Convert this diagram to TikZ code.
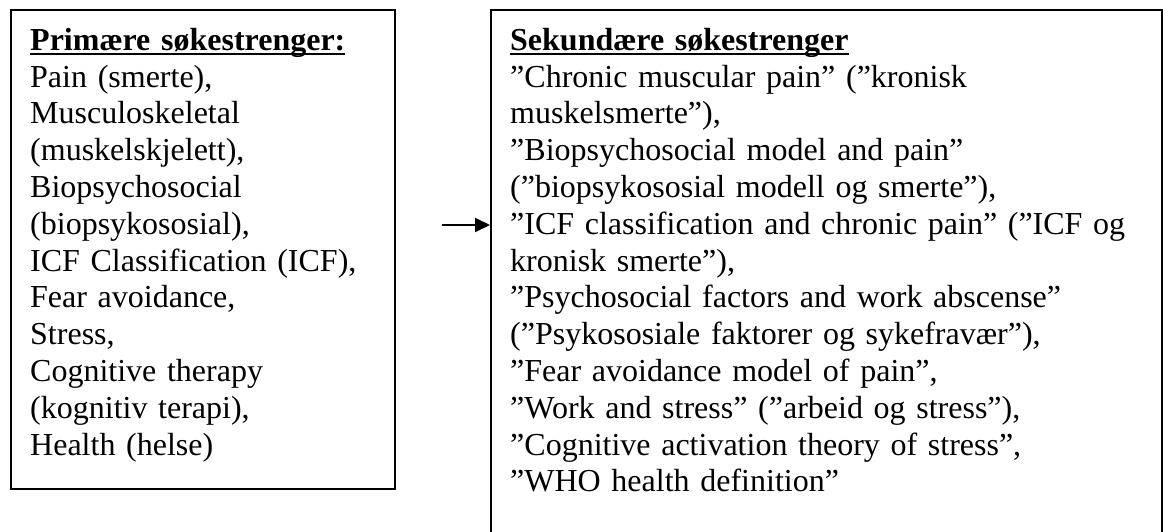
\documentclass[tikz,border=0pt]{standalone}
\usepackage{fontspec}
\setmainfont{Liberation Serif}
\usetikzlibrary{arrows.meta}
\newsavebox\ulbox
\newcommand\ulhead[1]{\sbox\ulbox{\bfseries #1}\rlap{\rule[-4.5pt]{\wd\ulbox}{2.2pt}}\usebox\ulbox}
\tikzset{
  box/.style={draw=black, line width=2pt, fill=none, inner sep=0pt, anchor=north west},
  txt/.style={inner sep=0pt, anchor=north west, align=left, font=\fontsize{32}{36.8}\selectfont},
  arr/.style={line width=2pt, -{Triangle[length=15pt,width=14pt]}, shorten >=0pt}
}
\begin{document}
\begin{tikzpicture}[x=1pt,y=-1pt]
\useasboundingbox (0,0) rectangle (1163,531);
\node[box, minimum width=384pt, minimum height=479pt] (prim) at (10,9) {};
\node[box, minimum width=671pt, minimum height=530pt] (sek) at (490,9) {};
\node[txt, text width=360pt] (primtxt) at (30,24) {\rule{0pt}{26pt}\ulhead{Primære søkestrenger:}\\
Pain (smerte),\\
Musculoskeletal\\
(muskelskjelett),\\
Biopsychosocial\\
(biopsykososial),\\
ICF Classification (ICF),\\
Fear avoidance,\\
Stress,\\
Cognitive therapy\\
(kognitiv terapi),\\
Health (helse)};
\node[txt, text width=640pt] (sektxt) at (510,24) {\rule{0pt}{26pt}\ulhead{Sekundære søkestrenger}\\
”Chronic muscular pain” (”kronisk\\
muskelsmerte”),\\
”Biopsychosocial model and pain”\\
(”biopsykososial modell og smerte”),\\
”ICF classification and chronic pain” (”ICF og\\
kronisk smerte”),\\
”Psychosocial factors and work abscense”\\
(”Psykososiale faktorer og sykefravær”),\\
”Fear avoidance model of pain”,\\
”Work and stress” (”arbeid og stress”),\\
”Cognitive activation theory of stress”,\\
”WHO health definition”};
\coordinate (astart) at (442,225);
\draw[arr] (astart) -- (astart -| sek.west);
\end{tikzpicture}
\end{document}
